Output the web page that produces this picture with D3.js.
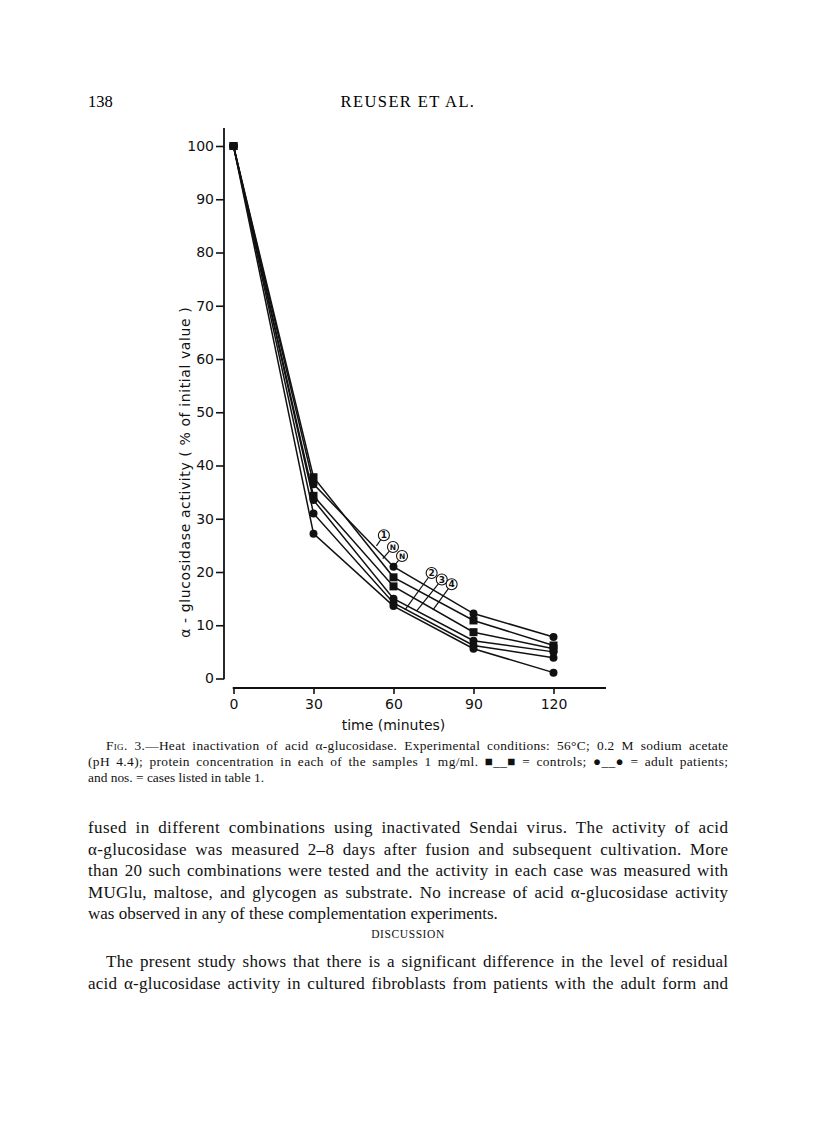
<!DOCTYPE html>
<html><head><meta charset="utf-8">
<script src="https://cdn.jsdelivr.net/npm/d3@7"></script>
<style>body{margin:0;background:#fff}svg{display:block}</style>
</head><body>
<script>
// ---------- data ----------
const times = [0, 30, 60, 90, 120];
const patient1 = [100, 36.5, 21.0, 12.2, 7.8];
const controlA = [100, 37.8, 19.0, 10.9, 6.2];
const controlB = [100, 34.3, 17.3, 8.7, 5.6];
const patient2 = [100, 33.5, 15.0, 7.1, 5.0];
const patient3 = [100, 31.0, 14.2, 6.2, 3.9];
const patient4 = [100, 27.2, 13.6, 5.6, 1.1];
const seriesList = [
  {name: "1", kind: "patient", values: patient1},
  {name: "N", kind: "control", values: controlA},
  {name: "N", kind: "control", values: controlB},
  {name: "2", kind: "patient", values: patient2},
  {name: "3", kind: "patient", values: patient3},
  {name: "4", kind: "patient", values: patient4}
];
const xTicks = [0, 30, 60, 90, 120];
const yTicks = [0, 10, 20, 30, 40, 50, 60, 70, 80, 90, 100];
// annotation labels: label point and pointer target, in data units (time, %)
const annLabels = ["1", "N", "N", "2", "3", "4"];
const annLabelT = [56.4, 59.8, 63.2, 74.3, 78.1, 81.8];
const annLabelV = [26.9, 24.7, 23.0, 19.8, 18.6, 17.7];
const annTargetT = [53.6, 56.0, 60.3, 64.3, 68.7, 74.8];
const annTargetV = [24.9, 22.5, 21.2, 12.9, 12.7, 12.9];

const captionLines = [
  "3.\u2014Heat inactivation of acid \u03b1-glucosidase. Experimental conditions: 56\u00b0C; 0.2 M sodium acetate",
  "(pH 4.4); protein concentration in each of the samples 1 mg/ml. \u25a0__\u25a0 = controls; \u25cf__\u25cf = adult patients;",
  "and nos.  = cases listed in table 1."
];
const bodyLines = [
  "fused in different combinations using inactivated Sendai virus. The activity of acid",
  "\u03b1-glucosidase was measured 2\u20138 days after fusion and subsequent cultivation. More",
  "than 20 such combinations were tested and the activity in each case was measured with",
  "MUGlu, maltose, and glycogen as substrate. No increase of acid \u03b1-glucosidase activity",
  "was observed in any of these complementation experiments."
];
const body2Lines = [
  "The present study shows that there is a significant difference in the level of residual",
  "acid \u03b1-glucosidase activity in cultured fibroblasts from patients with the adult form and"
];

// ---------- drawing ----------
const W = 816, H = 1122;
const svg = d3.select("body").append("svg").attr("width", W).attr("height", H);
svg.append("rect").attr("width", W).attr("height", H).attr("fill", "#fff");

const serif = "'Liberation Serif', 'Times New Roman', serif";
const sans = "'DejaVu Sans', sans-serif";

function justify(sel, width) {
  const node = sel.node();
  const nat = node.getComputedTextLength();
  const txt = sel.text();
  const spaces = (txt.match(/ /g) || []).length;
  const slack = width - nat;
  if (spaces > 0 && slack > 0) {
    const ls = slack * 0.45 / (txt.length - 1);
    sel.attr("letter-spacing", ls);
    sel.attr("word-spacing", (slack - ls * (txt.length - 1)) / spaces);
  } else if (spaces > 0) {
    sel.attr("word-spacing", Math.max(-2, slack / spaces));
  }
}

// header
svg.append("text").attr("x", 88).attr("y", 107).attr("font-family", serif).attr("font-size", 16.5).text("138");
svg.append("text").attr("x", 408).attr("y", 107).attr("text-anchor", "middle").attr("font-family", serif)
  .attr("font-size", 16.5).attr("letter-spacing", 1.4).text("REUSER ET AL.");

const x = d3.scaleLinear().domain([0, 120]).range([233.5, 553.5]);
const y = d3.scaleLinear().domain([0, 100]).range([678.5, 146]);

// y axis
const yAxisX = 224;
const gy = svg.append("g").attr("transform", `translate(${yAxisX},0)`)
  .call(d3.axisLeft(y).tickValues(yTicks).tickSize(8).tickPadding(2).tickSizeOuter(0));
gy.select(".domain").remove();
gy.selectAll(".tick line").attr("stroke", "#111").attr("stroke-width", 1.6);
gy.selectAll(".tick text").attr("font-family", sans).attr("font-size", 14).attr("fill", "#111");
svg.append("line").attr("x1", yAxisX).attr("x2", yAxisX).attr("y1", 128).attr("y2", y(0) + 0.8)
  .attr("stroke", "#111").attr("stroke-width", 1.8);

// x axis (offset below)
const xAxisY = 688;
const gx = svg.append("g").attr("transform", `translate(0,${xAxisY})`)
  .call(d3.axisBottom(x).tickValues(xTicks).tickSize(6).tickPadding(5).tickSizeOuter(0));
gx.select(".domain").remove();
gx.selectAll(".tick line").attr("stroke", "#111").attr("stroke-width", 1.6);
gx.selectAll(".tick text").attr("font-family", sans).attr("font-size", 14).attr("fill", "#111");
svg.append("line").attr("x1", x(0) - 0.8).attr("x2", 606).attr("y1", xAxisY).attr("y2", xAxisY)
  .attr("stroke", "#111").attr("stroke-width", 1.8);

svg.append("text").attr("x", x(60)).attr("y", 730).attr("text-anchor", "middle")
  .attr("font-family", sans).attr("font-size", 14).attr("fill", "#111").text("time (minutes)");
svg.append("text").attr("transform", `translate(190,${y(50) + 60}) rotate(-90)`).attr("text-anchor", "middle")
  .attr("font-family", sans).attr("font-size", 14).attr("letter-spacing", 0.6).attr("fill", "#111")
  .text("\u03b1 - glucosidase  activity ( % of  initial  value )");

// lines
const line = d3.line().x((d, i) => x(times[i])).y(d => y(d));
const plot = svg.append("g");
seriesList.forEach(s => {
  plot.append("path").datum(s.values).attr("d", line).attr("fill", "none")
    .attr("stroke", "#111").attr("stroke-width", 1.5);
});
seriesList.forEach(s => {
  s.values.forEach((v, i) => {
    if (s.kind === "control") {
      plot.append("rect").attr("x", x(times[i]) - 4).attr("y", y(v) - 4)
        .attr("width", 8).attr("height", 8).attr("fill", "#111");
    } else {
      plot.append("circle").attr("cx", x(times[i])).attr("cy", y(v)).attr("r", 4).attr("fill", "#111");
    }
  });
});

// annotations
annLabels.forEach((lab, i) => {
  const lx = x(annLabelT[i]), ly = y(annLabelV[i]);
  const tx = x(annTargetT[i]), ty = y(annTargetV[i]);
  const ang = Math.atan2(ty - ly, tx - lx);
  const r = 5.5;
  plot.append("line").attr("x1", lx + r * Math.cos(ang)).attr("y1", ly + r * Math.sin(ang))
    .attr("x2", tx).attr("y2", ty).attr("stroke", "#111").attr("stroke-width", 1.2);
  plot.append("circle").attr("cx", lx).attr("cy", ly).attr("r", r)
    .attr("fill", "#fff").attr("stroke", "#111").attr("stroke-width", 1.1);
  plot.append("text").attr("x", lx).attr("y", ly + 3.2).attr("text-anchor", "middle")
    .attr("font-family", sans).attr("font-weight", "bold").attr("font-size", lab === "N" ? 7.5 : 9)
    .attr("fill", "#111").text(lab);
});

// caption
const cap = svg.append("g").attr("font-family", serif).attr("font-size", 13.4).attr("fill", "#111");
const c0 = cap.append("text").attr("x", 106).attr("y", 750);
c0.append("tspan").attr("font-variant", "small-caps").text("Fig. ");
c0.append("tspan").text(captionLines[0]);
justify(c0, 622);
justify(cap.append("text").attr("x", 88).attr("y", 766).text(captionLines[1]), 640);
cap.append("text").attr("x", 88).attr("y", 782).text(captionLines[2]);

// body text
const bd = svg.append("g").attr("font-family", serif).attr("font-size", 17).attr("fill", "#111");
bodyLines.forEach((t, i) => {
  const tt = bd.append("text").attr("x", 88).attr("y", 833 + i * 21.6).text(t);
  if (i < bodyLines.length - 1) justify(tt, 640);
});
svg.append("text").attr("x", 408).attr("y", 938).attr("text-anchor", "middle").attr("font-family", serif)
  .attr("font-size", 11.5).attr("letter-spacing", 0.6).attr("fill", "#111").text("DISCUSSION");
body2Lines.forEach((t, i) => {
  const tt = bd.append("text").attr("x", i === 0 ? 106 : 88).attr("y", 967 + i * 21.6).text(t);
  justify(tt, i === 0 ? 622 : 640);
});
</script>
</body></html>
